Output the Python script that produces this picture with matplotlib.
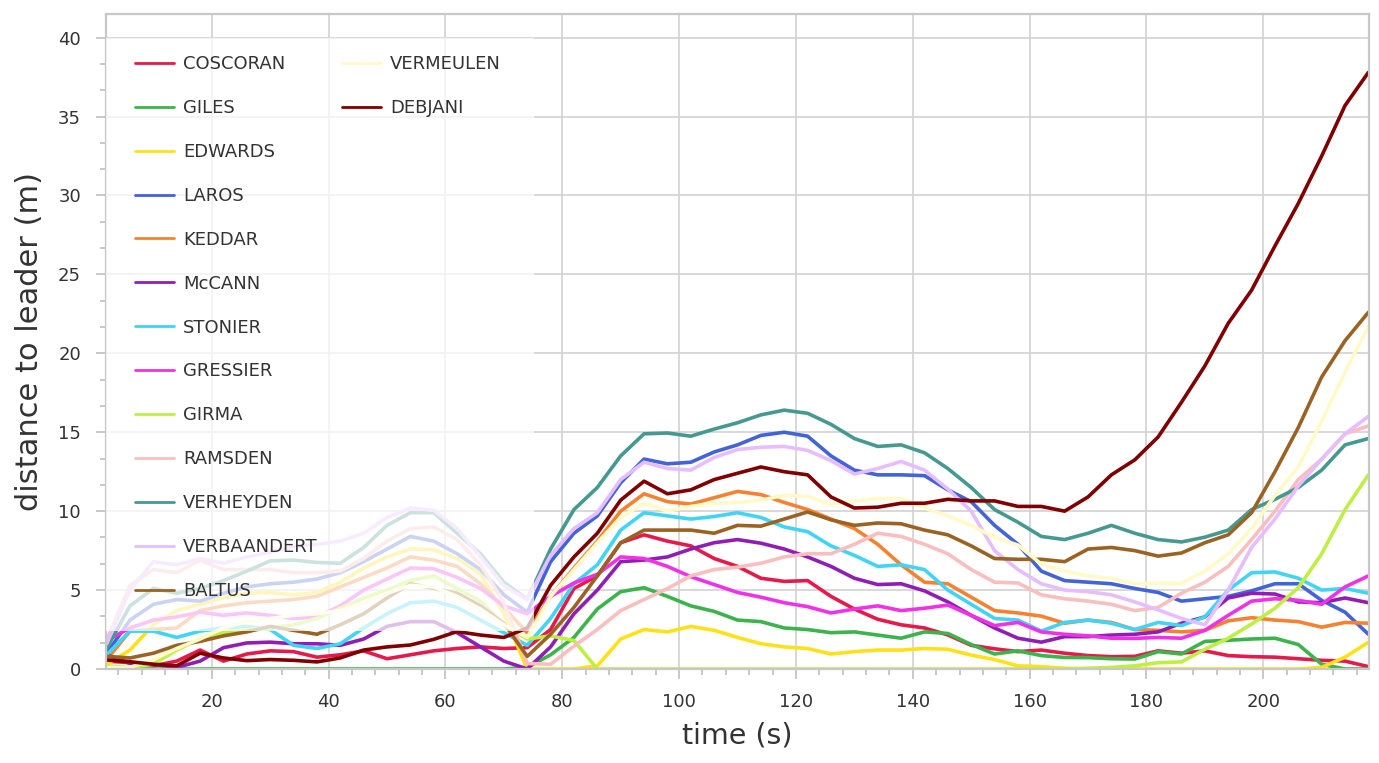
import matplotlib
matplotlib.use('Agg')
import matplotlib.pyplot as plt
from matplotlib.lines import Line2D
from matplotlib.patches import Rectangle
from matplotlib.ticker import MultipleLocator, AutoMinorLocator

# sample times (s)
time_s = list(range(2, 219, 4))

coscoran = [0.5, 0.4, 0.2, 0.5, 1.2, 0.5, 0.95, 1.15, 1.1, 0.75, 0.9, 1.15, 0.65, 0.9, 1.15, 1.3,
            1.4, 1.3, 1.35, 2.5, 5.1, 5.9, 8.0, 8.5, 8.1, 7.8, 7.0, 6.5, 5.75, 5.55, 5.6, 4.6,
            3.8, 3.15, 2.8, 2.6, 2.16, 1.5, 1.28, 1.1, 1.2, 1.0, 0.85, 0.78, 0.8, 1.15, 1.0, 1.15,
            0.85, 0.78, 0.75, 0.65, 0.55, 0.5, 0.15]
giles = [0, 0, 0, 0, 0, 0, 0, 0, 0, 0, 0, 0, 0, 0, 0, 0,
         0, 0, 0.1, 0.9, 2.0, 3.8, 4.9, 5.15, 4.6, 4.0, 3.65, 3.1, 3.0, 2.6, 2.5, 2.3,
         2.35, 2.15, 1.95, 2.35, 2.25, 1.55, 0.95, 1.15, 0.85, 0.73, 0.72, 0.65, 0.63, 1.1, 0.95, 1.75,
         1.82, 1.9, 1.95, 1.55, 0.3, 0, 0]
edwards = [0.3, 1.2, 2.8, 3.7, 4.1, 4.5, 4.8, 4.85, 4.7, 4.85, 5.5, 6.4, 7.1, 7.6, 7.55, 7.0,
           6.0, 3.5, 0, 0, 0, 0.2, 1.9, 2.5, 2.35, 2.7, 2.45, 2.0, 1.6, 1.4, 1.3, 0.95,
           1.1, 1.2, 1.2, 1.3, 1.25, 0.88, 0.6, 0.2, 0.15, 0.05, 0, 0, 0, 0, 0, 0,
           0, 0, 0, 0, 0.1, 0.75, 1.7]
laros = [1.0, 3.1, 4.1, 4.4, 4.3, 4.8, 5.2, 5.4, 5.5, 5.7, 6.1, 6.8, 7.6, 8.4, 8.1, 7.3,
         6.3, 4.7, 3.6, 6.8, 8.6, 9.7, 11.8, 13.3, 13.0, 13.1, 13.75, 14.2, 14.8, 15.0, 14.75, 13.5,
         12.6, 12.3, 12.3, 12.25, 11.35, 10.6, 9.1, 7.9, 6.2, 5.6, 5.5, 5.4, 5.1, 4.85, 4.3, 4.45,
         4.6, 4.95, 5.4, 5.4, 4.35, 3.6, 2.2]
keddar = [0.6, 2.4, 2.5, 2.6, 3.7, 4.0, 4.2, 4.3, 4.4, 4.6, 5.2, 5.8, 6.4, 7.1, 6.9, 6.5,
          5.4, 3.9, 2.3, 4.6, 6.4, 8.1, 10.0, 11.1, 10.6, 10.45, 10.85, 11.25, 11.05, 10.55, 10.1, 9.5,
          8.9, 7.9, 6.6, 5.5, 5.4, 4.55, 3.7, 3.55, 3.35, 2.9, 3.1, 2.95, 2.5, 2.45, 2.35, 2.45,
          3.05, 3.25, 3.1, 3.0, 2.65, 2.95, 2.9]
mccann = [0.9, 0.35, 0.3, 0.1, 0.5, 1.35, 1.65, 1.7, 1.6, 1.6, 1.5, 1.9, 2.7, 3.0, 3.0, 2.3,
          1.4, 0.5, 0, 1.4, 3.5, 5.0, 6.8, 6.9, 7.1, 7.6, 8.0, 8.2, 7.97, 7.6, 7.1, 6.5,
          5.75, 5.35, 5.4, 4.95, 4.25, 3.4, 2.6, 1.95, 1.7, 2.05, 2.05, 2.15, 2.2, 2.35, 2.9, 3.3,
          4.5, 4.8, 4.75, 4.25, 4.2, 4.5, 4.2]
stonier = [0.9, 2.4, 2.4, 2.0, 2.4, 2.6, 2.7, 2.5, 1.5, 1.3, 1.6, 2.6, 3.5, 4.2, 4.3, 3.9,
           3.1, 2.3, 1.5, 3.2, 5.4, 6.6, 8.8, 9.9, 9.7, 9.5, 9.66, 9.9, 9.6, 9.0, 8.7, 7.8,
           7.2, 6.5, 6.6, 6.3, 5.0, 4.1, 3.2, 3.1, 2.4, 2.95, 3.1, 2.9, 2.5, 2.95, 2.75, 3.3,
           5.0, 6.1, 6.15, 5.75, 5.0, 5.1, 4.8]
gressier = [1.8, 2.6, 3.1, 3.3, 3.6, 3.4, 3.55, 3.4, 3.2, 3.3, 4.0, 5.0, 5.7, 6.4, 6.35, 5.8,
            5.1, 4.0, 3.5, 4.6, 5.45, 6.0, 7.1, 7.0, 6.5, 5.85, 5.35, 4.85, 4.55, 4.2, 3.95, 3.55,
            3.8, 4.0, 3.7, 3.85, 4.05, 3.4, 2.75, 2.95, 2.35, 2.2, 2.1, 1.95, 1.94, 2.0, 1.95, 2.45,
            3.4, 4.3, 4.45, 4.35, 4.1, 5.2, 5.9]
girma = [0.2, 0.1, 0.3, 1.2, 1.9, 2.3, 2.5, 2.6, 2.8, 3.2, 3.85, 4.5, 5.0, 5.6, 5.9, 5.1,
         4.3, 2.8, 1.9, 2.1, 1.8, 0, 0, 0, 0, 0, 0, 0, 0, 0, 0, 0,
         0, 0, 0, 0, 0, 0, 0, 0, 0, 0, 0.05, 0.1, 0.2, 0.4, 0.45, 1.25,
         1.95, 2.85, 3.85, 5.15, 7.3, 10.1, 12.3]
ramsden = [1.8, 5.3, 6.3, 6.1, 6.9, 6.3, 6.3, 6.3, 6.1, 6.1, 6.2, 7.0, 8.1, 8.9, 9.0, 8.2,
           6.6, 4.2, 0.35, 0.3, 1.45, 2.5, 3.7, 4.4, 5.1, 5.9, 6.3, 6.45, 6.7, 7.1, 7.3, 7.3,
           7.9, 8.6, 8.4, 7.9, 7.3, 6.3, 5.5, 5.45, 4.7, 4.45, 4.3, 4.1, 3.7, 3.9, 4.8, 5.5,
           6.5, 8.2, 10.0, 12.0, 13.3, 14.9, 15.4]
verheyden = [1.3, 4.0, 5.1, 4.8, 5.1, 5.6, 6.2, 6.85, 6.9, 6.75, 6.7, 7.7, 9.1, 9.9, 9.9, 8.6,
             7.3, 5.5, 4.4, 7.6, 10.1, 11.5, 13.5, 14.9, 14.95, 14.75, 15.2, 15.6, 16.1, 16.4, 16.2, 15.5,
             14.6, 14.1, 14.2, 13.7, 12.7, 11.5, 10.1, 9.3, 8.4, 8.2, 8.6, 9.1, 8.6, 8.2, 8.05, 8.35,
             8.8, 10.1, 10.75, 11.5, 12.6, 14.2, 14.6]
verbaandert = [1.6, 5.0, 6.8, 6.6, 7.0, 6.7, 7.1, 7.4, 7.75, 7.9, 8.1, 8.6, 9.6, 10.2, 10.05, 8.9,
               7.1, 5.3, 4.4, 7.2, 8.9, 9.9, 12.0, 13.1, 12.7, 12.6, 13.4, 13.9, 14.05, 14.1, 13.85, 13.2,
               12.35, 12.7, 13.15, 12.6, 11.4, 10.0, 7.5, 6.3, 5.4, 5.0, 4.9, 4.7, 4.25, 3.75, 3.2, 2.8,
               5.0, 7.7, 9.5, 11.6, 13.3, 14.9, 16.0]
baltus = [0.8, 0.7, 1.0, 1.5, 1.75, 2.1, 2.35, 2.7, 2.45, 2.2, 2.8, 3.5, 4.5, 5.4, 5.1, 4.8,
          4.0, 2.9, 0.8, 2.2, 3.9, 5.9, 8.0, 8.8, 8.8, 8.8, 8.6, 9.1, 9.05, 9.5, 9.95, 9.45,
          9.1, 9.25, 9.2, 8.8, 8.5, 7.8, 7.0, 6.95, 6.95, 6.8, 7.6, 7.7, 7.5, 7.15, 7.35, 8.0,
          8.5, 9.9, 12.5, 15.3, 18.5, 20.8, 22.6]
vermeulen = [0.1, 0.1, 0.6, 1.3, 1.9, 2.6, 3.0, 3.2, 3.4, 3.5, 3.7, 4.2, 4.8, 5.3, 5.2, 4.6,
             3.8, 2.8, 2.0, 4.6, 6.3, 8.0, 9.6, 10.5, 10.0, 10.3, 10.5, 10.55, 10.7, 11.0, 10.95, 10.4,
             10.65, 10.8, 10.8, 10.2, 9.7, 9.1, 8.35, 7.85, 6.65, 6.2, 5.9, 5.75, 5.4, 5.43, 5.43, 6.2,
             7.3, 8.9, 11.0, 12.8, 15.7, 18.8, 21.7]
debjani = [0.57, 0.46, 0.3, 0.2, 1.0, 0.7, 0.53, 0.6, 0.55, 0.45, 0.7, 1.2, 1.4, 1.52, 1.88, 2.37,
           2.15, 2.0, 2.6, 5.3, 7.1, 8.6, 10.7, 11.9, 11.1, 11.35, 12.0, 12.4, 12.8, 12.5, 12.3, 10.9,
           10.2, 10.25, 10.5, 10.5, 10.75, 10.65, 10.65, 10.3, 10.3, 10.0, 10.9, 12.3, 13.25, 14.7, 16.9, 19.2,
           21.9, 24.0, 26.8, 29.5, 32.5, 35.7, 37.8]

runners = ['COSCORAN', 'GILES', 'EDWARDS', 'LAROS', 'KEDDAR', 'McCANN', 'STONIER', 'GRESSIER',
           'GIRMA', 'RAMSDEN', 'VERHEYDEN', 'VERBAANDERT', 'BALTUS', 'VERMEULEN', 'DEBJANI']
series = [coscoran, giles, edwards, laros, keddar, mccann, stonier, gressier,
          girma, ramsden, verheyden, verbaandert, baltus, vermeulen, debjani]
colors = ['#e6194b', '#3cb44b', '#ffe119', '#4363d8', '#f58231', '#911eb4', '#42d4f4', '#f032e6',
          '#bfef45', '#fabebe', '#469990', '#e6beff', '#9a6324', '#fffac8', '#800000']

frame_grey = '#c8c8c8'
text_grey = '#333333'

fig = plt.figure(figsize=(13.79, 7.63), dpi=100)
fig.subplots_adjust(left=0.0769, right=0.99275, bottom=0.1232, top=0.9817)
ax = fig.add_subplot(111)

for name, values, col in zip(runners, series, colors):
    ax.plot(time_s, values, color=col, lw=2.6, label=name,
            solid_joinstyle='round', solid_capstyle='round')

ax.set_xlim(1.9, 218.1)
ax.set_ylim(0, 41.5)
ax.xaxis.set_major_locator(MultipleLocator(20))
ax.xaxis.set_minor_locator(MultipleLocator(4))
ax.yaxis.set_major_locator(MultipleLocator(5))
ax.yaxis.set_minor_locator(AutoMinorLocator(3))

ax.set_axisbelow(True)
ax.grid(True, which='major', color='#d2d2d2', lw=1.2)
for sp in ax.spines.values():
    sp.set_color(frame_grey)
    sp.set_linewidth(1.6)
ax.tick_params(which='major', length=7, width=1.4, color=frame_grey,
               labelsize=13, labelcolor=text_grey, pad=10)
ax.tick_params(which='minor', length=4.5, width=1.4, color=frame_grey)
ax.tick_params(axis='y', which='major', pad=11)

ax.set_xlabel('time (s)', fontsize=20.5, color=text_grey, labelpad=8)
ax.set_ylabel('distance to leader (m)', fontsize=22, color=text_grey, labelpad=10)

# translucent legend background over the lines
ax.add_patch(Rectangle((0, 0.058), 0.339, 0.905, transform=ax.transAxes,
                       facecolor='white', edgecolor='none', alpha=0.72, zorder=3))

lines = ax.get_lines()
handles = lines[:13] + lines[13:] + [Line2D([], [], color='none') for _ in range(11)]
labels = runners[:13] + runners[13:] + [''] * 11
leg = ax.legend(handles, labels, ncol=2, loc='upper left',
                bbox_to_anchor=(0.023, 0.937), frameon=False, fontsize=13,
                borderpad=0, borderaxespad=0, handlelength=2.15, handletextpad=0.5,
                labelspacing=1.434, columnspacing=1.35)
for t in leg.get_texts():
    t.set_color(text_grey)
for h in leg.get_lines():
    h.set_linewidth(2)

fig.savefig('out.png', dpi=100)
